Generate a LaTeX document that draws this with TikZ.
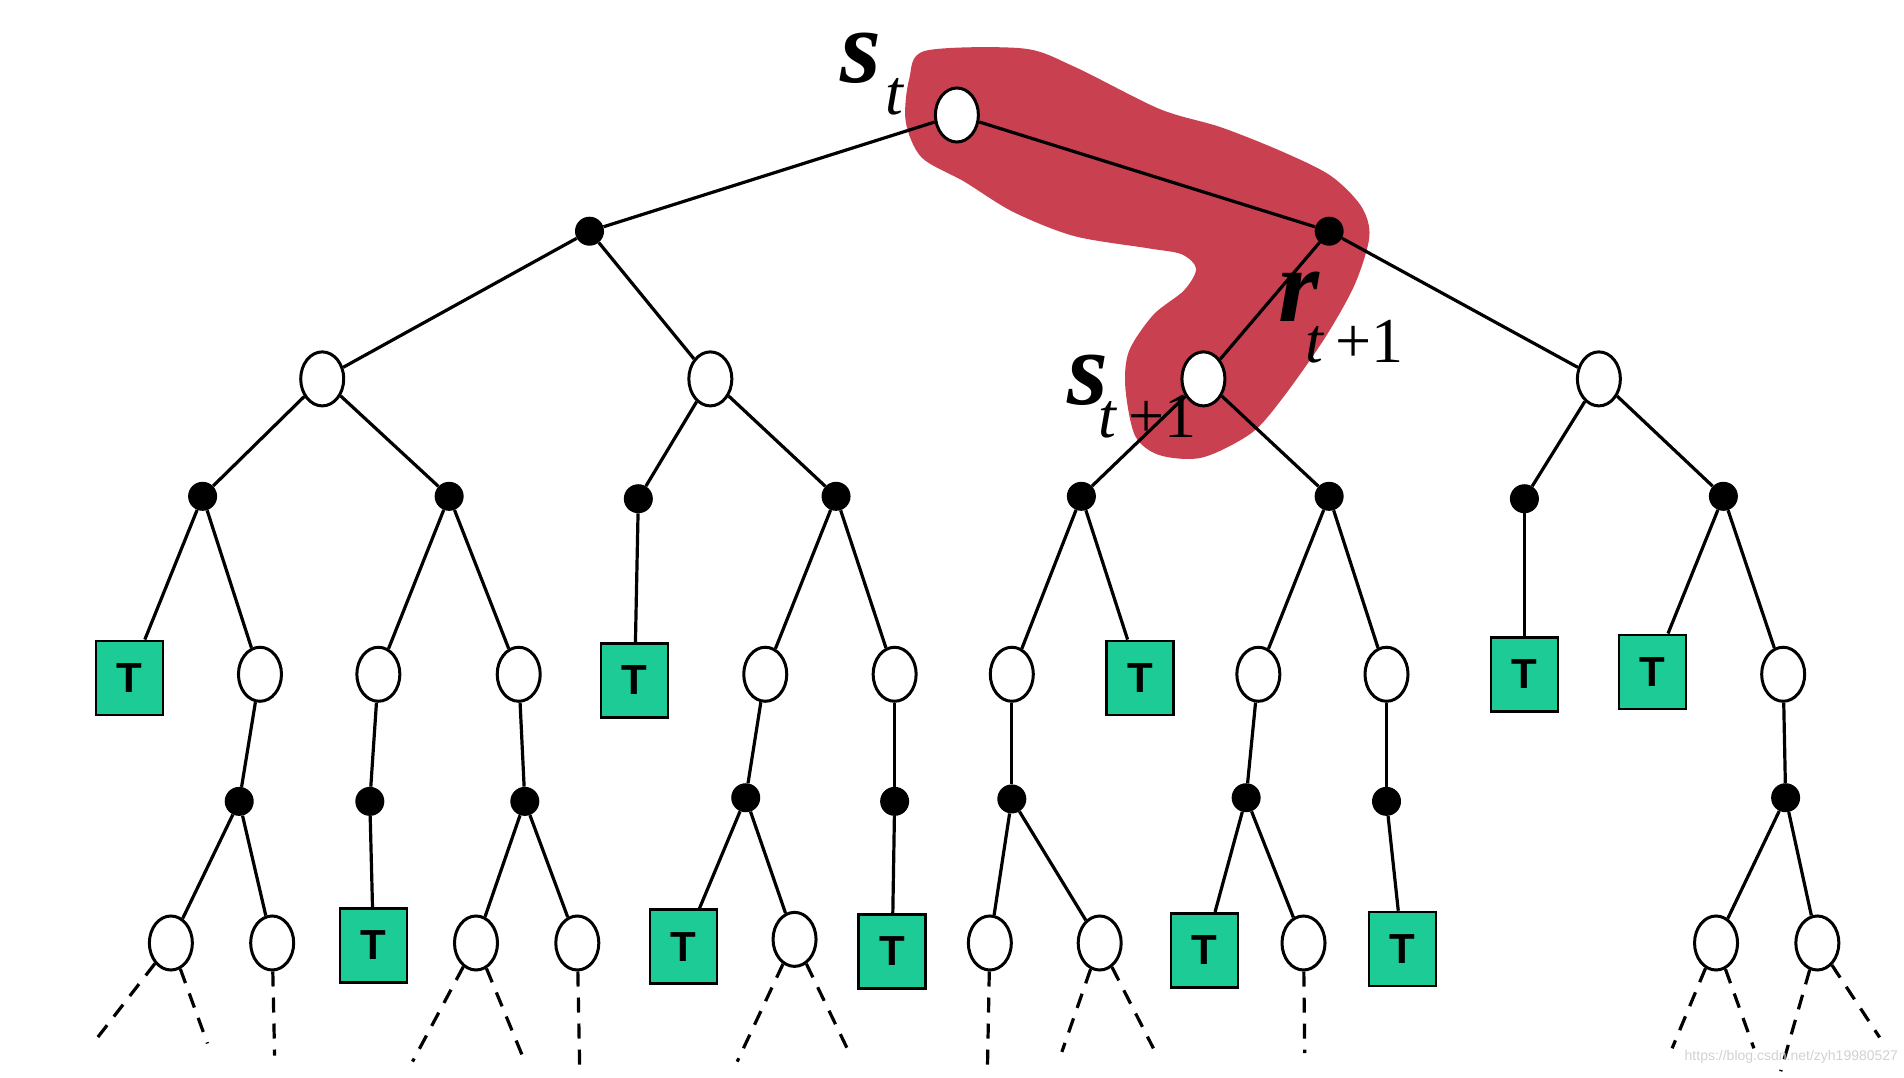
\documentclass[tikz,border=0pt]{standalone}
\usetikzlibrary{shapes.geometric}
\usepackage{fontspec}
\setmainfont{Liberation Serif}
\newfontfamily\sansf{Liberation Sans}
\begin{document}
\begin{tikzpicture}[x=1.22pt,y=-1.21pt,
 W/.style={draw,ellipse,fill=white,line width=3pt,minimum width=43pt,minimum height=54pt,inner sep=0pt},
 B/.style={circle,fill=black,minimum size=29pt,inner sep=0pt},
 T/.style={draw,fill={rgb,255:red,29;green,203;blue,151},line width=2.6pt,minimum width=67pt,minimum height=74pt,inner sep=0pt,font=\sansf\bfseries\fontsize{42}{42}\selectfont},
 e/.style={line width=3.2pt},
 d/.style={line width=3.2pt,dash pattern=on 15pt off 11pt},
 lab/.style={inner sep=0pt,font=\fontsize{105}{105}\selectfont\bfseries\itshape},
 sub/.style={inner sep=0pt,font=\fontsize{64}{64}\selectfont}]
\useasboundingbox (0,0) rectangle (1560,890);
\fill[fill={rgb,255:red,201;green,65;blue,80}] plot[smooth cycle,tension=0.5] coordinates {(758,42)(838,40)(880,55)(950,90)(1000,105)(1050,125)(1090,145)(1115,170)(1122,195)(1110,235)(1085,280)(1050,330)(1025,358)(985,378)(950,376)(930,360)(922,320)(925,290)(945,260)(970,240)(980,222)(968,210)(940,205)(880,195)(830,175)(790,150)(755,130)(742,100)(745,65)};
\node[W] (a) at (784,95) {};
\node[B] (b1) at (483,191) {}; \node[B] (b2) at (1089,191) {};
\node[W] (c1) at (264,313) {}; \node[W] (c2) at (582,313) {};
\node[W] (c3) at (986,313) {}; \node[W] (c4) at (1310,313) {};
\node[B] (d1) at (166,410) {}; \node[B] (d2) at (368,410) {};
\node[B] (d3) at (523,412) {}; \node[B] (d4) at (685,410) {};
\node[B] (d5) at (886,410) {}; \node[B] (d6) at (1089,410) {};
\node[B] (d7) at (1249,412) {}; \node[B] (d8) at (1412,410) {};
\node[T] (e1) at (106,560) {T}; \node[W] (e2) at (213,557) {};
\node[W] (e3) at (310,557) {}; \node[W] (e4) at (425,557) {};
\node[T] (e5) at (520,562) {T}; \node[W] (e6) at (627,557) {};
\node[W] (e7) at (733,557) {}; \node[W] (e8) at (829,557) {};
\node[T] (e9) at (934,560) {T}; \node[W] (e10) at (1031,557) {};
\node[W] (e11) at (1136,557) {}; \node[T] (e12) at (1249,557) {T};
\node[T] (e13) at (1354,555) {T}; \node[W] (e14) at (1461,557) {};
\node[B] (f1) at (196,662) {}; \node[B] (f2) at (303,662) {};
\node[B] (f3) at (430,662) {}; \node[B] (f4) at (611,659) {};
\node[B] (f5) at (733,662) {}; \node[B] (f6) at (829,660) {};
\node[B] (f7) at (1021,659) {}; \node[B] (f8) at (1136,662) {};
\node[B] (f9) at (1463,659) {};
\node[W] (g1) at (140,779) {}; \node[W] (g2) at (223,779) {};
\node[T] (g3) at (306,781) {T};
\node[W] (g4) at (390,779) {}; \node[W] (g5) at (473,779) {};
\node[T] (g6) at (560,782) {T}; \node[W] (g7) at (651,776) {};
\node[T] (g8) at (731,786) {T};
\node[W] (g9) at (811,779) {}; \node[W] (g10) at (901,779) {};
\node[T] (g11) at (987,785) {T}; \node[W] (g12) at (1068,779) {};
\node[T] (g13) at (1149,784) {T};
\node[W] (g14) at (1406,779) {}; \node[W] (g15) at (1489,779) {};
\foreach \n/\x/\y in {h1/80/857,h2/170/862,h3/225/872,h4/338/877,h5/430/877,h6/475/885,h7/604/877,h8/696/870,h9/809/885,h10/870/869,h11/945/866,h12/1069/870,h13/1370/866,h14/1437/866,h15/1459/885,h16/1540/857}
  \coordinate (\n) at (\x,\y);
\foreach \p/\q in {a/b1,a/b2,b1/c1,b1/c2,b2/c3,b2/c4,c1/d1,c1/d2,c2/d3,c2/d4,c3/d5,c3/d6,c4/d7,c4/d8,
 d1/e1,d1/e2,d2/e3,d2/e4,d3/e5,d4/e6,d4/e7,d5/e8,d5/e9,d6/e10,d6/e11,d7/e12,d8/e13,d8/e14,
 e2/f1,e3/f2,e4/f3,e6/f4,e7/f5,e8/f6,e10/f7,e11/f8,e14/f9,
 f1/g1,f1/g2,f2/g3,f3/g4,f3/g5,f4/g6,f4/g7,f5/g8,f6/g9,f6/g10,f7/g11,f7/g12,f8/g13,f9/g14,f9/g15}
  \draw[e] (\p) -- (\q);
\foreach \p/\q in {g1/h1,g1/h2,g2/h3,g4/h4,g4/h5,g5/h6,g7/h7,g7/h8,g9/h9,g10/h10,g10/h11,g12/h12,g14/h13,g14/h14,g15/h15,g15/h16}
  \draw[d] (\p) -- (\q);
\node[lab] (ls) at (705,48) {s};
\node[sub] (lt) at (733,80) {\textit{t}};
\node[lab] (lr) at (1064,245) {r};
\node[sub] (lr1) at (1110,282) {\textit{t}\,+1};
\node[lab] (ls1) at (891,314) {s};
\node[sub] (ls2) at (940,344) {\textit{t}\,+1};
\node[anchor=east,text=black!18,font=\sansf\fontsize{14}{14}\selectfont] (wm) at (1558,873) {https://blog.csdn.net/zyh19980527};
\end{tikzpicture}
\end{document}
